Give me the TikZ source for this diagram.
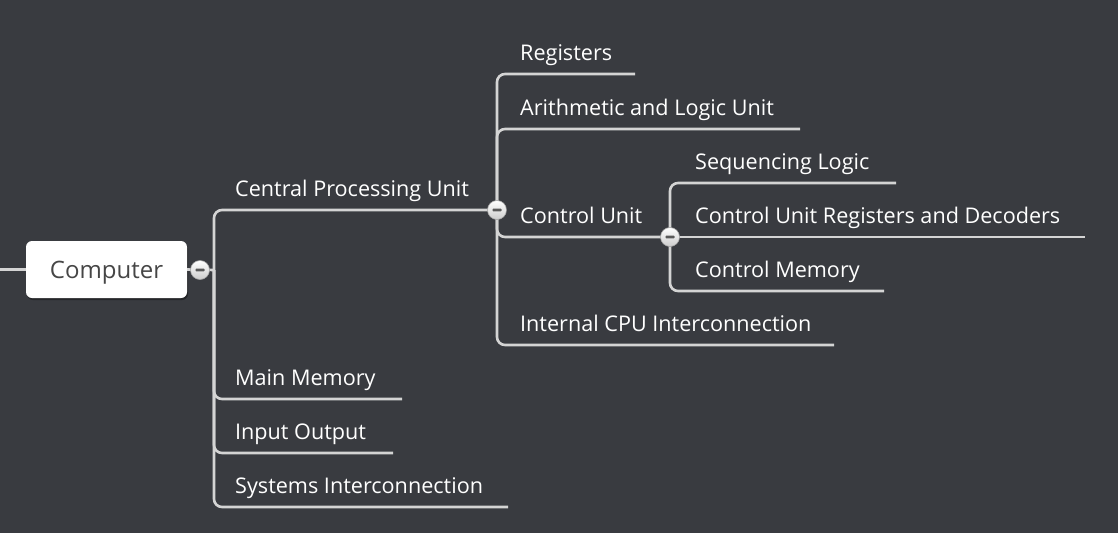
\documentclass[tikz,border=0pt]{standalone}
\usepackage{fontspec}
\setmainfont{Open Sans}
\usetikzlibrary{shadows}
\definecolor{bg}{RGB}{57,59,64}
\definecolor{ln}{RGB}{212,212,212}
\definecolor{tg}{RGB}{70,70,70}
\begin{document}
\begin{tikzpicture}[x=1pt,y=-1pt,
  lbl/.style={anchor=base west, text=white, font=\fontsize{21.6}{22}\selectfont, inner sep=0pt},
  conn/.style={draw=ln, line width=2.6pt, rounded corners=8pt},
  btn/.style={circle, minimum size=19pt, inner sep=0pt, draw=gray!70, line width=0.6pt, top color=white, bottom color=gray!40,
    path picture={\fill[black!65, rounded corners=0.8pt] ([xshift=-4.5pt,yshift=-1.4pt]path picture bounding box.center) rectangle ([xshift=4.5pt,yshift=1.4pt]path picture bounding box.center);}}]
\fill[bg] (0,0) rectangle (1118,533);
\useasboundingbox (0,0) rectangle (1118,533);
% root
\node[fill=white, rounded corners=6pt, minimum width=161pt, minimum height=57pt, inner sep=0pt,
  text=tg, font=\fontsize{24}{24}\selectfont, text height=17pt, text depth=0pt,
  drop shadow={shadow xshift=1pt, shadow yshift=-2pt, opacity=0.35, fill=black}] (comp) at (106.5,269.5) {Computer};
% coordinates
\coordinate (lin) at (0,269.5);
\coordinate (b0) at (200,270);
\coordinate (j0) at (214,270);
\coordinate (b1) at (497,210);
\coordinate (b2) at (670,237);
\coordinate (mmE) at (402,399);
\coordinate (ioE) at (393,453);
\coordinate (siE) at (508,507);
\coordinate (regE) at (635,74);
\coordinate (aluE) at (800,129);
\coordinate (iciE) at (834,345);
\coordinate (seqE) at (896,183);
\coordinate (curdE) at (1085,237);
\coordinate (cmE) at (884,291);
% labels
\node[lbl] (cpu) at (235,196.5) {Central Processing Unit};
\node[lbl] (mm) at (235,385.5) {Main Memory};
\node[lbl] (io) at (235,439.5) {Input Output};
\node[lbl] (si) at (235,493.5) {Systems Interconnection};
\node[lbl] (reg) at (520,60.5) {Registers};
\node[lbl] (alu) at (520,115.5) {Arithmetic and Logic Unit};
\node[lbl] (cu) at (520,223.5) {Control Unit};
\node[lbl] (ici) at (520,331.5) {Internal CPU Interconnection};
\node[lbl] (seq) at (695,169.5) {Sequencing Logic};
\node[lbl] (curd) at (695,223.5) {Control Unit Registers and Decoders};
\node[lbl] (cm) at (695,277.5) {Control Memory};
% connectors
\draw[conn] (lin) -- (comp.west);
\draw[conn] (comp.east) -- (j0);
\draw[conn] (j0) |- (b1);
\draw[conn] (j0) |- (mmE);
\draw[conn] (j0) |- (ioE);
\draw[conn] (j0) |- (siE);
\draw[conn] (b1) |- (regE);
\draw[conn] (b1) |- (aluE);
\draw[conn] (b1) |- (b2);
\draw[conn] (b1) |- (iciE);
\draw[conn] (b2) |- (seqE);
\draw[conn] (b2) -- (curdE);
\draw[conn] (b2) |- (cmE);
% buttons
\node[btn] (k0) at (b0) {};
\node[btn] (k1) at (b1) {};
\node[btn] (k2) at (b2) {};
\end{tikzpicture}
\end{document}
